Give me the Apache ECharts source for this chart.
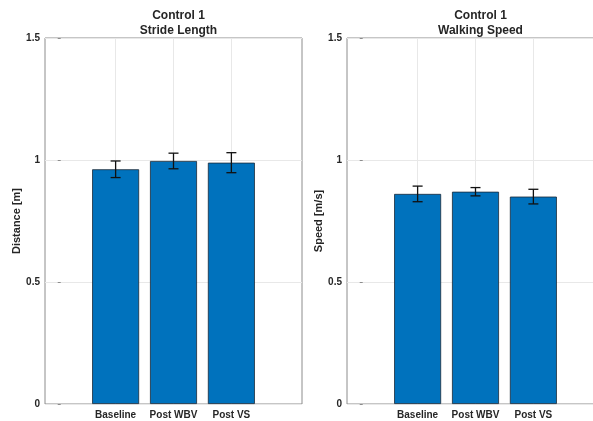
<!DOCTYPE html>
<html>
<head>
<meta charset="utf-8">
<script src="https://cdn.jsdelivr.net/npm/echarts@6/dist/echarts.min.js"></script>
<style>
html,body{margin:0;padding:0;background:#fff;}
#chart{width:593px;height:421px;}
</style>
</head>
<body>
<div id="chart"></div>
<script>
const categories = ['Baseline', 'Post WBV', 'Post VS'];
const strideMean = [0.962, 0.996, 0.989];
const strideErr = [0.034, 0.032, 0.041];
const speedMean = [0.861, 0.870, 0.850];
const speedErr = [0.032, 0.017, 0.030];
const titles = [['Control 1', 'Stride Length'], ['Control 1', 'Walking Speed']];
const yNames = ['Distance [m]', 'Speed [m/s]'];

const FONT = '"Liberation Sans", Arial, Helvetica, sans-serif';
const AXIS_COLOR = '#8c8c8c';
const GRID_COLOR = '#e8e8e8';
const TEXT_COLOR = '#262626';
const BAR_COLOR = '#0072BD';

const chart = echarts.init(document.getElementById('chart'), null, {renderer: 'canvas'});

// second panel is cut off at the right edge of the picture
const grids = [
  {left: 45, top: 38, width: 257, height: 366, xMax: 4.22, titleX: 173.5},
  {left: 347, top: 38, width: 257, height: 366, xMax: 4.22, titleX: 475.5}
];

function catLabel(v) {
  const r = Math.round(v);
  if (Math.abs(v - r) < 1e-6 && r >= 1 && r <= categories.length) return categories[r - 1];
  return '';
}

const xAxes = grids.map((g, i) => ({
  type: 'value', gridIndex: i, min: -0.22, max: g.xMax,
  axisLine: {show: false}, axisTick: {show: false}, splitLine: {show: false},
  axisLabel: {formatter: catLabel, color: TEXT_COLOR, fontFamily: FONT, fontWeight: 'bold', fontSize: 10, margin: 6}
}));

const yAxes = grids.map((g, i) => ({
  type: 'value', gridIndex: i, min: 0, max: 1.5, interval: 0.5,
  name: yNames[i], nameLocation: 'middle', nameGap: 23,
  nameTextStyle: {color: TEXT_COLOR, fontFamily: FONT, fontWeight: 'bold', fontSize: 11},
  axisLine: {show: false},
  axisTick: {show: true, inside: true, length: 3, lineStyle: {color: AXIS_COLOR}},
  splitLine: {show: true, lineStyle: {color: GRID_COLOR, width: 1}},
  axisLabel: {color: TEXT_COLOR, fontFamily: FONT, fontWeight: 'bold', fontSize: 10, margin: 5}
}));

function barSeries(means, idx) {
  return {
    type: 'bar', xAxisIndex: idx, yAxisIndex: idx,
    data: means.map((m, k) => [k + 1, m]),
    barWidth: 47, z: 2,
    itemStyle: {color: BAR_COLOR, borderColor: '#1b2a38', borderWidth: 0.8},
    markLine: {
      silent: true, symbol: 'none', z: 1, label: {show: false},
      lineStyle: {color: GRID_COLOR, type: 'solid', width: 1},
      data: categories.map((c, k) => ({xAxis: k + 1}))
    }
  };
}

function errSeries(means, errs, idx) {
  return {
    type: 'custom', xAxisIndex: idx, yAxisIndex: idx, z: 3,
    data: means.map((m, k) => [k + 1, m, errs[k]]),
    renderItem: function (params, api) {
      const x = api.value(0), m = api.value(1), e = api.value(2);
      const top = api.coord([x, m + e]);
      const bot = api.coord([x, m - e]);
      const hw = 5;
      const style = {stroke: '#111', lineWidth: 1.3, fill: null};
      return {
        type: 'group',
        children: [
          {type: 'line', shape: {x1: top[0], y1: top[1], x2: bot[0], y2: bot[1]}, style: style},
          {type: 'line', shape: {x1: top[0] - hw, y1: top[1], x2: top[0] + hw, y2: top[1]}, style: style},
          {type: 'line', shape: {x1: bot[0] - hw, y1: bot[1], x2: bot[0] + hw, y2: bot[1]}, style: style}
        ]
      };
    }
  };
}

const option = {
  backgroundColor: '#ffffff',
  animation: false,
  title: grids.map((g, i) => ({
    text: titles[i][0] + '\n' + titles[i][1],
    left: g.titleX, top: 3, textAlign: 'center',
    textStyle: {color: TEXT_COLOR, fontFamily: FONT, fontWeight: 'bold', fontSize: 12, lineHeight: 15}
  })),
  grid: grids.map(g => ({show: true, borderColor: AXIS_COLOR, borderWidth: 1, backgroundColor: '#fff',
    containLabel: false, outerBoundsMode: 'none',
    left: g.left, top: g.top, width: g.width, height: g.height})),
  xAxis: xAxes,
  yAxis: yAxes,
  series: [
    barSeries(strideMean, 0), errSeries(strideMean, strideErr, 0),
    barSeries(speedMean, 1), errSeries(speedMean, speedErr, 1)
  ]
};
chart.setOption(option);
</script>
</body>
</html>
